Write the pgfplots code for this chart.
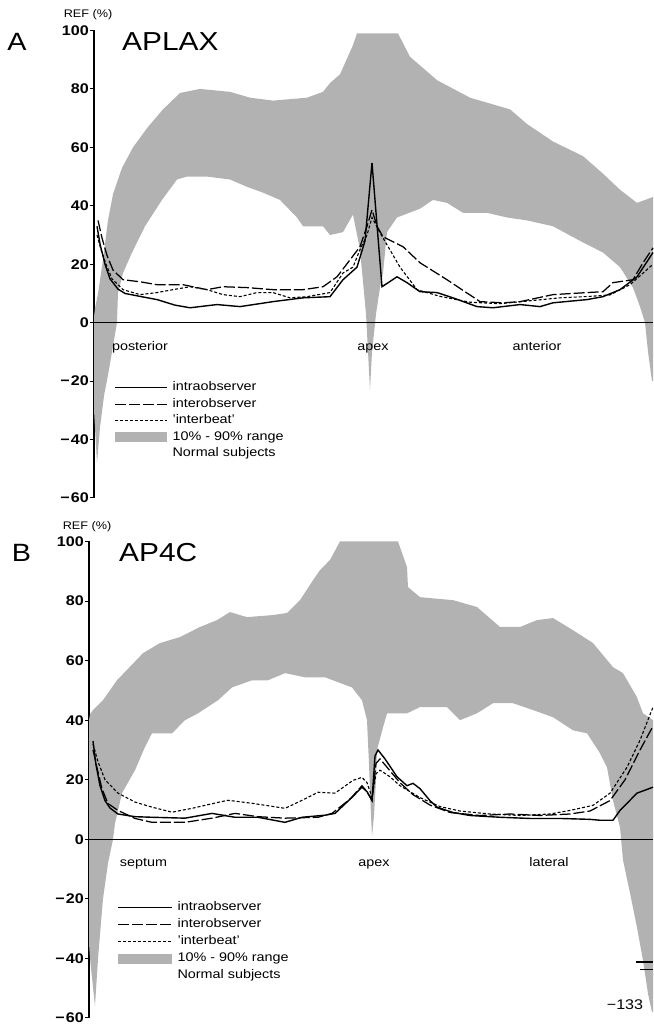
\documentclass[border=0pt]{standalone}
\usepackage{fontspec}
\setmainfont{Liberation Sans}[FakeStretch=1.15]
\usepackage{pgfplots}
\pgfplotsset{compat=1.18}
\definecolor{band}{gray}{0.70}
\pgfplotsset{
  myarea/.style={legend image code/.code={\fill[##1] (0pt,-5pt) rectangle (\pgfkeysvalueof{/pgfplots/legimglen},5pt);}},
  legimglen/.initial=52pt,
  refaxis/.style={
    scale only axis, xmin=0, xmax=100, ymin=-60, ymax=100,
    axis y line=left, axis x line=none,
    y axis line style={line width=1.5pt,-},
    xtick=\empty,
    ytick={-60,-40,-20,0,20,40,60,80,100},
    yticklabels={−\kern1pt60,−\kern1pt40,−\kern1pt20,0,20,40,60,80,100},
    tick align=outside, major tick length=4pt,
    tick style={black,line width=1pt},
    yticklabel style={font=\fontsize{14}{15}\selectfont\bfseries, inner sep=1pt},
    clip=false,
    legend cell align=left,
    legend image code/.code={\draw[##1] (0pt,0pt) -- (\pgfkeysvalueof{/pgfplots/legimglen},0pt);},
  },
  intra/.style={black, line width=1.4pt},
  inter/.style={black, line width=1.25pt, dash pattern=on 11pt off 3pt},
  beat/.style={black, line width=1.1pt, dash pattern=on 3pt off 2pt},
}
\begin{document}
\begin{tikzpicture}
\useasboundingbox (0,0) rectangle (653pt,1027pt);
% ---------------- Panel A ----------------
\begin{axis}[refaxis, at={(94pt,529pt)}, anchor=south west, width=559pt, height=467.5pt,
  legimglen=52pt,
  legend style={at={(axis cs:3.58,-19.8)}, anchor=north west, draw=none, fill=none, inner sep=0pt,
    row sep=2.5pt, column sep=4pt, font=\fontsize{12.5}{14}\selectfont,
    nodes={inner sep=1pt, text height=9pt, text depth=3pt}}]
\addplot[fill=band, draw=none, forget plot] coordinates {
(0,-30) (0,2) (0.18,5) (0.72,10) (1.61,21.5) (2.50,35) (3.40,44) (5.01,53) (6.98,60) (9.66,67)
(12.34,73) (15.38,78.6) (18.96,80) (24.33,79) (27.91,77) (32.02,76) (38.10,77) (40.97,79)
(42.22,82) (44.01,85) (46.33,95) (47.05,99) (54.38,99) (56.53,91) (61.36,83) (67.26,77)
(74.42,73) (77.46,68) (82.11,62) (87.48,57) (91.05,51) (94.10,45.5) (97.14,41) (100,43)
(100,-20) (99.82,-20) (99.11,-10) (98.57,0) (97.67,5.5) (96.42,12) (94.10,19) (91.05,24)
(86.94,28) (82.11,33) (77.46,35) (73.88,36) (70.30,37.6) (66.01,37.6) (63.15,41) (60.64,42)
(58.32,39) (54.20,36) (52.42,31) (51.70,17) (51.16,12) (50.45,3) (49.73,-10) (49.37,-23)
(49.02,-10) (48.66,3) (47.58,25) (46.33,37) (44.54,31) (42.22,30) (40.97,33) (37.39,33)
(36.31,36) (33.27,42) (30.23,44.5) (27.37,46.5) (24.33,49) (20.21,50) (16.64,50) (14.85,49)
(12.16,42) (9.12,33) (6.80,24) (5.19,17) (4.29,10) (4.11,0) (3.40,-8) (2.50,-18) (1.79,-25)
(1.07,-36) (0.54,-48)
} -- cycle;
\addplot[black, line width=0.9pt, forget plot] coordinates {(0,0) (100,0)};
\addplot[intra] coordinates {
(0.54,33) (1.07,27) (1.97,20) (2.86,15) (4.29,11.5) (5.55,10) (8.23,9) (11.27,7.9) (14.49,6)
(17.17,5.1) (22.00,6.2) (26.12,5.5) (32.02,7.2) (37.39,8.5) (42.22,8.9) (44.54,14.7) (47.05,19)
(48.48,28) (49.73,54.7) (51.52,12.3) (54.20,15.7) (55.99,13.7) (58.32,10.6) (61.36,10.3)
(64.22,8.5) (68.52,5.5) (71.38,5.1) (76.21,6.2) (79.79,5.5) (82.11,6.8) (88.19,7.9) (91.05,8.9)
(94.10,11.3) (97.14,15.7) (100,24)
};
\addlegendentry{intraobserver}
\addplot[inter] coordinates {
(0.72,35) (1.43,29) (2.33,23) (3.40,18) (5.19,14.7) (8.23,14) (11.27,13) (15.92,13) (20.21,11.3)
(23.08,12.3) (27.37,12) (32.02,11.3) (37.39,11.3) (40.97,12.3) (43.47,15.7) (45.80,21.5)
(47.58,26) (48.84,33) (49.73,38.6) (50.63,33) (51.70,29.4) (55.28,26) (58.32,20.5) (63.15,14.7)
(69.05,7.2) (73.17,6.8) (76.21,7.2) (82.11,9.6) (88.19,10.3) (91.05,10.6) (92.84,13.7)
(96.42,14.7) (98.21,20.5) (100,25.6)
};
\addlegendentry{interobserver}
\addplot[beat] coordinates {
(0.54,30) (1.25,25) (2.15,20) (3.22,15) (5.19,11.3) (8.23,9.6) (11.27,10.3) (14.13,11.3)
(17.17,12.3) (20.21,11.3) (23.08,9.6) (26.12,8.9) (29.16,10.3) (32.02,10.3) (35.06,8.5)
(38.10,8.9) (42.22,10.3) (44.54,17) (46.33,19) (47.58,25) (48.84,30) (49.73,36) (51.16,30.8)
(54.74,19) (57.78,11.3) (61.90,9) (67.26,7) (72.63,6.5) (78.00,7.5) (83.36,8.5) (88.73,9)
(92.31,9.5) (95.89,13) (100,20)
};
\addlegendentry{'interbeat'}
\addlegendimage{myarea, fill=band, draw=none}
\addlegendentry{10\% - 90\% range}
\addlegendimage{empty legend}
\addlegendentry{Normal subjects}
\node[anchor=base, font=\fontsize{12.5}{14}\selectfont] at (axis cs:8.23,-9.6) {posterior};
\node[anchor=base, font=\fontsize{12.5}{14}\selectfont] at (axis cs:49.9,-9.6) {apex};
\node[anchor=base, font=\fontsize{12.5}{14}\selectfont] at (axis cs:79.25,-9.6) {anterior};
\end{axis}
% ---------------- Panel B ----------------
\begin{axis}[refaxis, at={(89pt,9pt)}, anchor=south west, width=564pt, height=476.5pt,
  legimglen=54pt,
  legend style={at={(axis cs:4.96,-20.5)}, anchor=north west, draw=none, fill=none, inner sep=0pt,
    row sep=3pt, column sep=4pt, font=\fontsize{12.5}{14}\selectfont,
    nodes={inner sep=1pt, text height=9pt, text depth=3pt}}]
\addplot[fill=band, draw=none, forget plot] coordinates {
(0,-35) (0,40) (0.18,42) (0.71,43.4) (2.48,46.7) (4.96,53.4) (7.80,59) (9.57,62.5) (12.59,65.9)
(16.13,67.9) (19.68,71.3) (22.70,73.6) (25.00,76.3) (28.01,74.6) (32.62,75.3) (35.11,76)
(37.41,80.3) (39.72,87) (40.96,90.4) (42.73,93.8) (44.50,100) (54.79,100) (56.38,91.4)
(56.56,84.7) (58.69,81.3) (64.54,80.3) (68.79,78) (72.87,71.3) (76.42,71.3) (79.43,73.6)
(82.27,74.3) (85.82,70.2) (89.36,65.9) (92.91,57.8) (94.68,55.8) (97.16,47.7) (98.23,42.3)
(100,40)
(100,-58) (99.82,-58) (99.11,-51.8) (98.23,-40.7) (97.16,-29.6) (95.92,-18) (94.68,-7) (94.15,4)
(92.91,13) (91.84,24.2) (90.60,28.9) (88.30,35.6) (85.82,36.6) (82.27,41) (78.72,43.4)
(75.18,45.7) (71.63,45.7) (68.79,42.3) (65.78,40) (63.48,44.4) (58.69,44.4) (56.38,42.3)
(52.84,42.3) (52.13,37.6) (51.06,30) (50.89,20) (50.53,8) (50.18,1) (50.00,8) (49.65,25)
(49.29,40) (48.40,46.7) (46.63,51) (41.84,54.4) (38.30,54.4) (34.75,55.8) (31.74,53.4)
(28.90,53.4) (25.35,51) (22.87,46.7) (19.33,42.3) (17.02,40) (14.72,35.6) (11.17,35.6)
(9.93,31) (8.16,23.2) (5.85,15.5) (4.61,5.4) (4.26,0) (3.37,-8) (2.48,-20) (1.60,-40) (1.06,-56)
(0.18,-40)
} -- cycle;
\addplot[black, line width=0.9pt, forget plot] coordinates {(0,0) (100,0)};
\addplot[intra] coordinates {
(0.71,33) (1.24,25) (1.95,18) (2.84,13) (3.72,10.5) (5.14,8.5) (8.16,7.6) (11.17,7.4) (17.02,7.1)
(21.81,8.7) (25.89,7.4) (29.96,7.4) (34.75,5.7) (37.77,7.4) (41.84,8.1) (43.62,8.7) (46.63,14.1)
(48.40,17.5) (49.29,16) (50.18,13.1) (50.71,28) (51.24,30) (52.48,27) (54.61,21) (56.38,18)
(57.45,18.8) (58.69,17) (60.46,13) (61.70,10.8) (64.54,9) (67.55,8) (72.87,7.4) (78.19,7)
(83.51,7) (88.83,6.7) (90.60,6.4) (92.91,6.4) (94.15,9.7) (97.16,15.5) (100,17.5)
};
\addlegendentry{intraobserver}
\addplot[inter] coordinates {
(0.71,30) (1.42,24) (2.30,17) (3.37,12) (5.14,9.7) (8.16,7) (11.17,5.7) (17.02,5.7) (21.81,7.1)
(25.89,8.7) (29.96,7.6) (34.75,7.1) (40.60,7.4) (43.09,8.7) (46.28,13.5) (48.40,18) (49.29,16)
(50.18,13) (50.89,25.5) (51.60,27) (53.37,23) (55.14,19) (57.45,15) (60.46,11.5) (64.01,9)
(69.33,8) (74.65,8.5) (79.96,8) (85.28,8.5) (88.83,9.5) (92.38,13) (95.04,20) (97.70,30) (100,38)
};
\addlegendentry{interobserver}
\addplot[beat] coordinates {
(0.71,32) (1.60,26) (2.84,20) (5.14,15.5) (8.16,12.5) (11.17,10.8) (14.72,9.1) (18.26,10.4)
(22.87,12.4) (24.65,13.1) (28.90,12.1) (34.75,10.4) (37.77,13.1) (40.60,15.8) (43.62,15.5)
(46.81,19.8) (48.40,20.8) (49.29,19) (50.18,14.1) (50.89,22) (51.60,23.2) (53.37,21) (55.14,18)
(58.69,14) (62.23,11) (65.78,9.5) (71.10,8.5) (76.42,8) (81.74,8.5) (85.28,9.7) (89.36,11.4)
(92.38,15.5) (95.39,24.2) (97.70,33.3) (100,44.4)
};
\addlegendentry{'interbeat'}
\addlegendimage{myarea, fill=band, draw=none}
\addlegendentry{10\% - 90\% range}
\addlegendimage{empty legend}
\addlegendentry{Normal subjects}
\node[anchor=base, font=\fontsize{12.5}{14}\selectfont] at (axis cs:9.66,-9.1) {septum};
\node[anchor=base, font=\fontsize{12.5}{14}\selectfont] at (axis cs:50.53,-9.1) {apex};
\node[anchor=base, font=\fontsize{12.5}{14}\selectfont] at (axis cs:81.56,-9.1) {lateral};
\end{axis}
% ---------------- titles and labels ----------------
\node[inner sep=0pt, font=\fontsize{25}{28}\selectfont] at (17pt,985.5pt) {A};
\node[inner sep=0pt, anchor=west, font=\fontsize{26}{28}\selectfont] at (122pt,985.5pt) {APLAX};
\node[inner sep=0pt, font=\fontsize{11}{12}\selectfont] at (88pt,1012pt) {REF (\%)};
\node[inner sep=0pt, font=\fontsize{25}{28}\selectfont] at (21.5pt,474.5pt) {B};
\node[inner sep=0pt, anchor=west, font=\fontsize{26}{28}\selectfont] at (119pt,474.5pt) {AP4C};
\node[inner sep=0pt, font=\fontsize{11}{12}\selectfont] at (87pt,500pt) {REF (\%)};
\node[inner sep=0pt, font=\fontsize{14}{15}\selectfont] at (625pt,22pt) {−133};
\draw[line width=1.5pt] (636pt,65pt) -- (653pt,65pt);
\draw[line width=0.7pt] (640pt,58pt) -- (653pt,58pt);
\end{tikzpicture}
\end{document}
